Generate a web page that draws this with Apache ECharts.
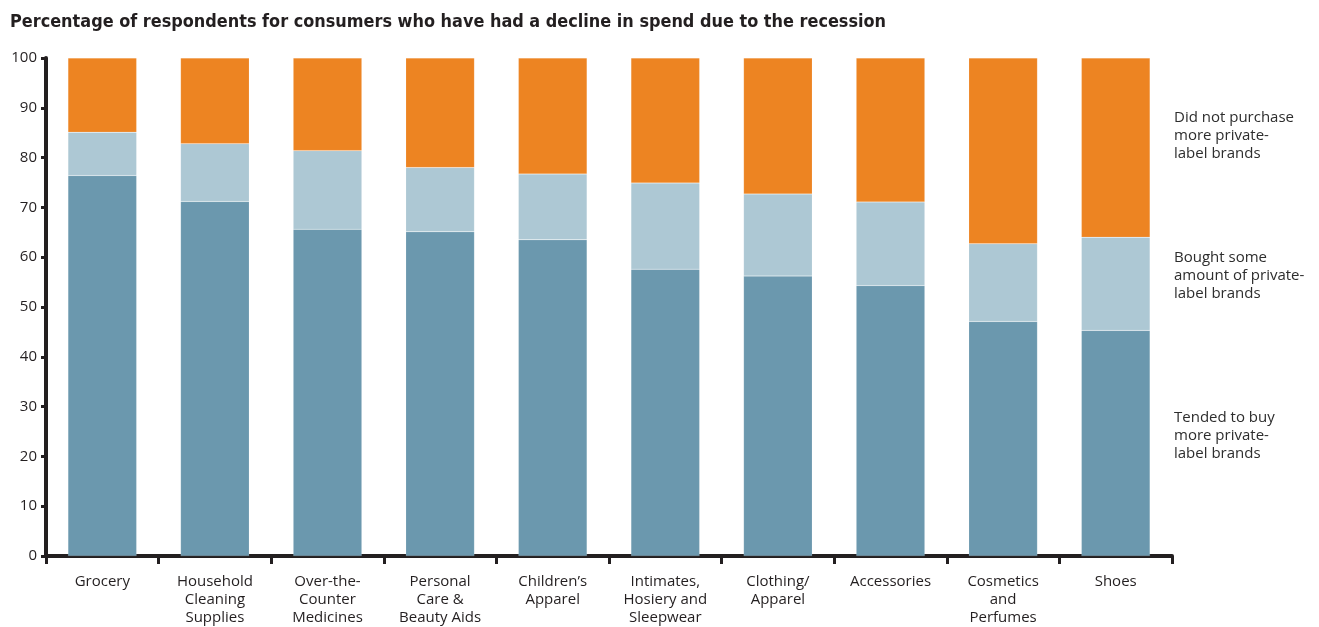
<!DOCTYPE html>
<html><head><meta charset="utf-8">
<script src="https://cdn.jsdelivr.net/npm/echarts@6/dist/echarts.min.js"></script>
<style>html,body{margin:0;padding:0;background:#fff}#c{width:1319px;height:627px}</style>
</head><body><div id="c"></div>
<script>
const titleText = 'Percentage of respondents for consumers who have had a decline in spend due to the recession';
const categories = ['Grocery', 'Household\nCleaning\nSupplies', 'Over-the-\nCounter\nMedicines', 'Personal\nCare &\nBeauty Aids', 'Children\u2019s\nApparel', 'Intimates,\nHosiery and\nSleepwear', 'Clothing/\nApparel', 'Accessories', 'Cosmetics\nand\nPerfumes', 'Shoes'];
const seriesNames = ['Tended to buy\nmore private-\nlabel brands', 'Bought some\namount of private-\nlabel brands', 'Did not purchase\nmore private-\nlabel brands'];
const tendedToBuy = [76.4, 71.2, 65.6, 65.1, 63.5, 57.6, 56.2, 54.3, 47.1, 45.3];
const boughtSome = [8.7, 11.6, 15.8, 12.9, 13.2, 17.3, 16.5, 16.8, 15.6, 18.7];
const didNotPurchase = [14.9, 17.2, 18.6, 22.0, 23.3, 25.1, 27.3, 28.9, 37.3, 36.0];
const yTicks = [0, 10, 20, 30, 40, 50, 60, 70, 80, 90, 100];

const colors = ['#6b98ae', '#adc8d4', '#ed8422'];
const chart = echarts.init(document.getElementById('c'));
const font = '"Open Sans", "Noto Sans", sans-serif';
const mk = (name, data, color) => ({
  name, type: 'bar', stack: 'total', data, barWidth: '61%',
  itemStyle: { color, borderColor: 'rgba(255,255,255,0.25)', borderWidth: 0.5 },
  emphasis: { disabled: true }
});
chart.setOption({
  animation: false,
  title: { text: titleText, left: 5, top: 8,
    textStyle: { fontFamily: '"Liberation Sans Narrow", "DejaVu Sans Condensed", sans-serif', fontWeight: 'bold', fontSize: 17.9, color: '#231f20' } },
  grid: { left: 46, right: 147, top: 58, bottom: 67, containLabel: false },
  xAxis: { type: 'category', data: categories,
    axisLine: { lineStyle: { color: '#231f20', width: 4 } },
    axisTick: { show: true, length: 8, lineStyle: { color: '#231f20', width: 3 } },
    axisLabel: { interval: 0, margin: 17, fontFamily: font, fontSize: 15, color: '#231f20', lineHeight: 18 } },
  yAxis: { type: 'value', min: 0, max: 100, interval: 10,
    splitLine: { show: false },
    axisLine: { show: true, lineStyle: { color: '#231f20', width: 4 } },
    axisTick: { show: true, length: 5, lineStyle: { color: '#231f20', width: 3 } },
    axisLabel: { margin: 9, fontFamily: font, fontSize: 15, color: '#231f20',
      formatter: v => yTicks.includes(v) ? String(v) : '' } },
  series: [mk(seriesNames[0], tendedToBuy, colors[0]), mk(seriesNames[1], boughtSome, colors[1]), mk(seriesNames[2], didNotPurchase, colors[2])],
  graphic: [
    { type: 'text', left: 1174, top: 109, style: { text: seriesNames[2], font: '15px ' + font, fill: '#2d2d2d', lineHeight: 18 } },
    { type: 'text', left: 1174, top: 249, style: { text: seriesNames[1], font: '15px ' + font, fill: '#2d2d2d', lineHeight: 18 } },
    { type: 'text', left: 1174, top: 409, style: { text: seriesNames[0], font: '15px ' + font, fill: '#2d2d2d', lineHeight: 18 } }
  ]
});
</script></body></html>
